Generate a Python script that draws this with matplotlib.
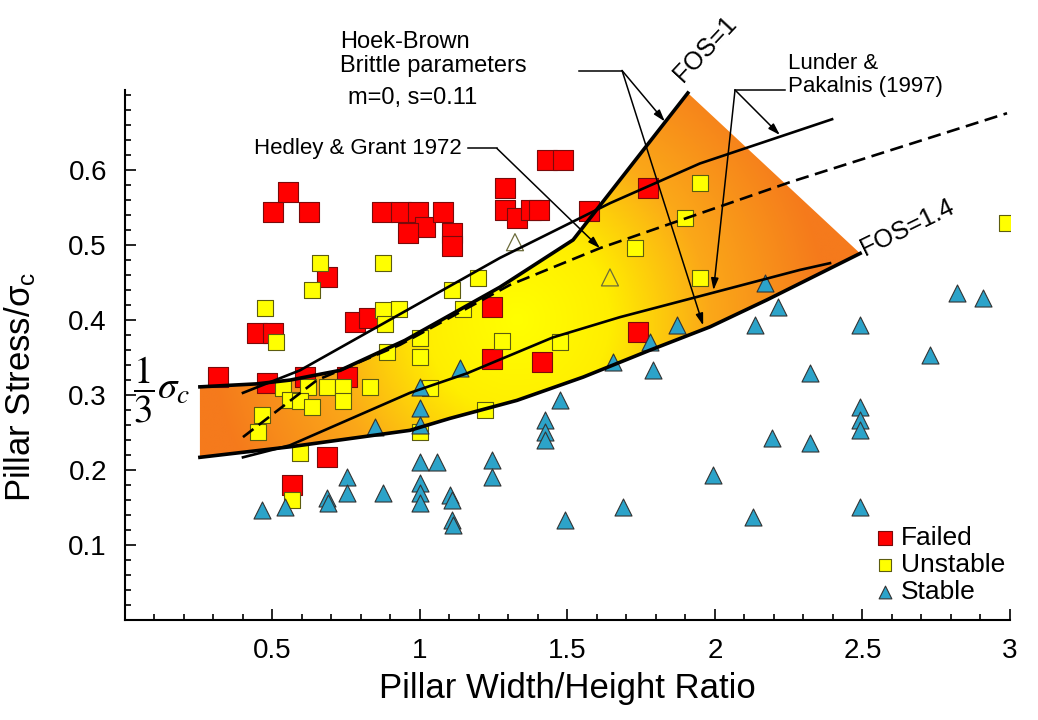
import numpy as np
import matplotlib
matplotlib.use('Agg')
import matplotlib.pyplot as plt
from matplotlib.colors import LinearSegmentedColormap
from matplotlib.patches import Polygon
from matplotlib.ticker import MultipleLocator

plt.rcParams['font.family'] = ['Liberation Sans', 'DejaVu Sans']
plt.rcParams['mathtext.fontset'] = 'custom'
plt.rcParams['mathtext.rm'] = 'Liberation Sans'
plt.rcParams['mathtext.it'] = 'Liberation Sans:italic'

# data
failed_x = [0.315, 0.447, 0.502, 0.481, 0.610, 0.753, 0.685, 0.566, 0.685, 0.780,
            0.827, 0.502, 0.553, 0.624, 0.871, 0.936, 0.993, 1.017, 0.959, 1.078,
            1.108, 1.108, 1.288, 1.288, 1.329, 1.376, 1.403, 1.573, 1.431, 1.485,
            1.773, 1.244, 1.244, 1.414, 1.739]
failed_y = [0.324, 0.383, 0.383, 0.316, 0.324, 0.324, 0.217, 0.180, 0.457, 0.397,
            0.403, 0.544, 0.571, 0.544, 0.544, 0.544, 0.544, 0.524, 0.516, 0.544,
            0.516, 0.499, 0.576, 0.547, 0.536, 0.547, 0.547, 0.545, 0.613, 0.613,
            0.576, 0.417, 0.348, 0.344, 0.384]

unstable_x = [0.661, 0.634, 0.475, 0.512, 0.875, 0.929, 0.881, 0.888, 0.536, 0.620,
              0.685, 0.739, 0.739, 0.831, 0.559, 0.593, 0.634, 0.464, 0.451, 0.593,
              0.566, 0.875, 1.000, 1.000, 1.034, 1.000, 1.108, 1.197, 1.146, 1.278,
              1.475, 1.220, 1.729, 1.898, 1.949, 1.949, 2.990]
unstable_y = [0.476, 0.440, 0.416, 0.371, 0.413, 0.415, 0.395, 0.357, 0.309, 0.311,
              0.311, 0.311, 0.292, 0.311, 0.293, 0.292, 0.284, 0.273, 0.251, 0.223,
              0.160, 0.476, 0.376, 0.351, 0.309, 0.251, 0.440, 0.456, 0.415, 0.372,
              0.371, 0.280, 0.496, 0.536, 0.583, 0.456, 0.530]

stable_x = [0.464, 0.542, 0.685, 0.688, 0.753, 0.753, 0.875, 0.847, 1.000, 1.000,
            1.000, 1.000, 1.058, 1.000, 1.000, 1.000, 1.102, 1.108, 1.108, 1.112,
            1.136, 1.244, 1.244, 1.424, 1.424, 1.424, 1.475, 1.492, 1.654, 1.780,
            1.790, 1.871, 1.688, 1.993, 2.129, 2.136, 2.169, 2.214, 2.193, 2.322,
            2.322, 2.492, 2.492, 2.492, 2.492, 2.492, 2.729, 2.820, 2.908]
stable_y = [0.147, 0.151, 0.163, 0.156, 0.191, 0.169, 0.169, 0.257, 0.311, 0.283,
            0.260, 0.211, 0.211, 0.183, 0.169, 0.156, 0.167, 0.160, 0.133, 0.127,
            0.336, 0.213, 0.191, 0.267, 0.251, 0.240, 0.293, 0.133, 0.344, 0.371,
            0.333, 0.393, 0.151, 0.193, 0.137, 0.393, 0.449, 0.417, 0.243, 0.329,
            0.236, 0.393, 0.284, 0.267, 0.253, 0.151, 0.353, 0.436, 0.429]

open_x = [1.322, 1.644]
open_y = [0.504, 0.457]

# FOS=1 (upper) and FOS=1.4 (lower) Hoek-Brown curves
fos1_x = [0.254, 0.447, 0.559, 0.729, 0.949, 1.271, 1.519, 1.908]
fos1_y = [0.311, 0.315, 0.320, 0.333, 0.373, 0.444, 0.507, 0.703]
fos14_x = [0.254, 0.559, 0.966, 1.102, 1.329, 1.553, 1.780, 1.983, 2.176, 2.492]
fos14_y = [0.217, 0.231, 0.253, 0.269, 0.293, 0.324, 0.360, 0.391, 0.427, 0.489]

# Lunder & Pakalnis curves
lp_hi_x = [0.400, 0.593, 0.932, 1.271, 1.644, 1.949, 2.397]
lp_hi_y = [0.303, 0.333, 0.408, 0.483, 0.556, 0.609, 0.668]
lp_lo_x = [0.400, 0.559, 0.966, 1.159, 1.451, 1.678, 2.288, 2.390]
lp_lo_y = [0.217, 0.233, 0.303, 0.329, 0.377, 0.404, 0.467, 0.476]

# Hedley & Grant 1972
hg_x = [0.400, 0.651, 0.932, 1.305, 1.610, 2.254, 2.990]
hg_y = [0.244, 0.320, 0.367, 0.447, 0.496, 0.584, 0.676]

fig = plt.figure(figsize=(10.38, 7.2), dpi=100)
ax = fig.add_axes([0.1204, 0.1389, 0.8526, 0.7361])

# gradient filled region between FOS=1 and FOS=1.4
cmap = LinearSegmentedColormap.from_list(
    'fos', [(0, '#FFFF00'), (0.3, '#FFEE00'), (0.62, '#FBA818'), (1, '#F57A1C')])
gx = np.linspace(0.2, 2.6, 400)
gy = np.linspace(0.18, 0.73, 300)
GX, GY = np.meshgrid(gx, gy)
dist = np.hypot((GX - 1.33) * 295, (GY - 0.40) * 750) / 310
img = ax.imshow(dist, extent=[gx[0], gx[-1], gy[0], gy[-1]], origin='lower',
                cmap=cmap, vmin=0, vmax=1, aspect='auto',
                interpolation='bilinear', zorder=1)
verts = np.column_stack([fos1_x + fos14_x[::-1], fos1_y + fos14_y[::-1]])
region = Polygon(verts, closed=True, facecolor='none', edgecolor='none')
ax.add_patch(region)
img.set_clip_path(region)

ax.text(0.027, 0.307, r'$\dfrac{1}{3}\sigma_c$', fontsize=28,
        math_fontfamily='stix', ha='left', va='center', zorder=0.5)

ax.scatter(failed_x, failed_y, marker='s', s=200, c='#FF0000',
           edgecolors='#7A0A0A', linewidths=0.8, zorder=3, label='Failed')
ax.scatter(unstable_x, unstable_y, marker='s', s=145, c='#FFFF00',
           edgecolors='#5C5C10', linewidths=0.8, zorder=3, label='Unstable')
ax.scatter(stable_x, stable_y, marker='^', s=150, c='#2CA3C9',
           edgecolors='#333333', linewidths=0.8, zorder=3, label='Stable')
ax.scatter(open_x, open_y, marker='^', s=150, facecolors='none',
           edgecolors='#6B6B3A', linewidths=0.9, zorder=3)

ax.plot(fos1_x, fos1_y, color='black', lw=2.6, zorder=4)
ax.plot(fos14_x, fos14_y, color='black', lw=2.6, zorder=4)
ax.plot(lp_hi_x, lp_hi_y, color='black', lw=1.9, zorder=4)
ax.plot(lp_lo_x, lp_lo_y, color='black', lw=1.9, zorder=4)
ax.plot(hg_x, hg_y, color='black', lw=1.9, dashes=(5, 2.5), zorder=4,
        clip_on=False)

arrow = dict(arrowstyle='-|>,head_length=0.7,head_width=0.22', lw=1.1,
             color='black', shrinkA=0, shrinkB=0)

# Hoek-Brown annotation
ax.text(0.729, 0.755, 'Hoek-Brown\nBrittle parameters', fontsize=17,
        ha='left', va='center', linespacing=1.15)
ax.text(0.756, 0.696, 'm=0, s=0.11', fontsize=17, ha='left', va='center')
ax.plot([1.540, 1.685], [0.733, 0.733], color='black', lw=1.1, clip_on=False)
ax.annotate('', xy=(1.830, 0.665), xytext=(1.685, 0.733), arrowprops=arrow,
            annotation_clip=False)
ax.annotate('', xy=(1.960, 0.393), xytext=(1.685, 0.733), arrowprops=arrow,
            annotation_clip=False)

# Hedley & Grant annotation
ax.text(1.142, 0.629, 'Hedley & Grant 1972', fontsize=16, ha='right', va='center')
ax.plot([1.163, 1.261], [0.629, 0.629], color='black', lw=1.1)
ax.annotate('', xy=(1.610, 0.496), xytext=(1.261, 0.629), arrowprops=arrow)

# Lunder & Pakalnis annotation
ax.text(2.247, 0.727, 'Lunder &\nPakalnis (1997)', fontsize=16, ha='left',
        va='center', linespacing=1.15)
ax.plot([2.068, 2.237], [0.707, 0.707], color='black', lw=1.1, clip_on=False)
ax.annotate('', xy=(2.220, 0.647), xytext=(2.068, 0.707), arrowprops=arrow,
            annotation_clip=False)
ax.annotate('', xy=(1.995, 0.440), xytext=(2.068, 0.707), arrowprops=arrow,
            annotation_clip=False)

ax.text(1.905, 0.712, 'FOS=1', fontsize=18, rotation=47, ha='left',
        va='bottom', rotation_mode='anchor')
ax.text(2.515, 0.479, 'FOS=1.4', fontsize=18, rotation=26, ha='left',
        va='bottom', rotation_mode='anchor')

ax.set_xlim(0, 3)
ax.set_ylim(0, 0.707)
ax.set_xticks([0.5, 1, 1.5, 2, 2.5, 3])
ax.set_xticklabels(['0.5', '1', '1.5', '2', '2.5', '3'])
ax.set_yticks([0.1, 0.2, 0.3, 0.4, 0.5, 0.6])
ax.xaxis.set_minor_locator(MultipleLocator(0.1))
ax.yaxis.set_minor_locator(MultipleLocator(0.02))
ax.tick_params(which='both', direction='in', width=1.2, labelsize=20)
ax.tick_params(which='major', length=8, pad=13)
ax.tick_params(which='minor', length=4)
for side in ['top', 'right']:
    ax.spines[side].set_visible(False)
for side in ['left', 'bottom']:
    ax.spines[side].set_linewidth(1.5)

ax.set_xlabel('Pillar Width/Height Ratio', fontsize=25, labelpad=6)
ax.set_ylabel(r'Pillar Stress/σ$_{\mathrm{c}}$', fontsize=25)
ax.yaxis.set_label_coords(-0.098, 0.44)

ax.legend(loc='lower right', bbox_to_anchor=(0.995, 0.03), frameon=False,
          fontsize=19, markerscale=0.75, handletextpad=0.1, labelspacing=0.12,
          borderaxespad=0, borderpad=0, handlelength=1.0)

fig.savefig('out.png', dpi=100)
